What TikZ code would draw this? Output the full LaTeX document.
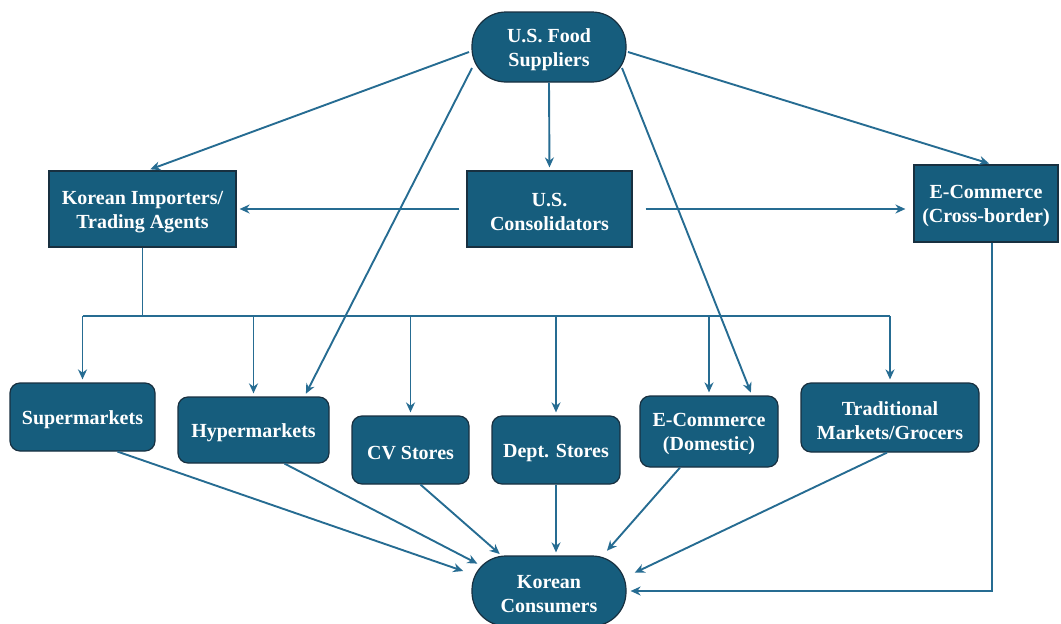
\documentclass[tikz,border=0pt]{standalone}
\usepackage{fontspec}
\setmainfont{Liberation Serif}
\usetikzlibrary{calc,arrows.meta}
\definecolor{boxfill}{RGB}{22,93,125}
\definecolor{boxline}{RGB}{24,48,64}
\definecolor{arrowc}{RGB}{38,108,146}
\tikzset{
  base/.style={draw=boxline, line width=1.2pt, fill=boxfill, inner sep=0pt},
  sqbox/.style={base},
  rbox/.style={base, rounded corners=10pt},
  pill/.style={base, rounded corners=34pt},
  lbl/.style={text=white, align=center, font=\bfseries\fontsize{20}{24}\selectfont, inner sep=0pt},
  conn/.style={draw=arrowc, line width=1.9pt},
  arr/.style={conn, -{Stealth[length=10pt,width=9pt]}, shorten >=3pt}
}
\begin{document}
\begin{tikzpicture}[x=1pt,y=-1pt]
\useasboundingbox (0,0) rectangle (1061,624);
% shapes
\node[pill, minimum width=154pt, minimum height=70pt] (sup) at (549,47) {};
\node[sqbox, minimum width=187pt, minimum height=76pt] (imp) at (142.5,209) {};
\node[sqbox, minimum width=165pt, minimum height=76pt] (con) at (549.5,209) {};
\node[sqbox, minimum width=144pt, minimum height=77pt] (ecx) at (986,203.5) {};
\node[rbox, minimum width=145pt, minimum height=68pt] (sm) at (82.5,417) {};
\node[rbox, minimum width=151pt, minimum height=66pt] (hyp) at (253.5,430) {};
\node[rbox, minimum width=117pt, minimum height=68pt] (cv) at (410.5,450) {};
\node[rbox, minimum width=128pt, minimum height=68pt] (dept) at (556,450) {};
\node[rbox, minimum width=138pt, minimum height=71pt] (ecd) at (709,431.5) {};
\node[rbox, minimum width=178pt, minimum height=69pt] (tr) at (890,417.5) {};
\node[pill, minimum width=154pt, minimum height=70pt] (kc) at (549,591) {};
% labels
\node[lbl] (supt) at ($(sup.center)+(0,3)$) {U.S. Food\\Suppliers};
\node[lbl] (impt) at ($(imp.center)+(0,3)$) {Korean Importers/\\Trading Agents};
\node[lbl] (cont) at ($(con.center)+(0,3)$) {U.S.\\Consolidators};
\node[lbl] (ecxt) at ($(ecx.center)+(0,3)$) {E-Commerce\\(Cross-border)};
\node[lbl] (smt) at ($(sm.center)+(0,3)$) {Supermarkets};
\node[lbl] (hypt) at ($(hyp.center)+(0,3)$) {Hypermarkets};
\node[lbl] (cvt) at ($(cv.center)+(0,3)$) {CV Stores};
\node[lbl] (deptt) at ($(dept.center)+(0,3)$) {Dept. Stores};
\node[lbl] (ecdt) at ($(ecd.center)+(0,3)$) {E-Commerce\\(Domestic)};
\node[lbl] (trt) at ($(tr.center)+(0,3)$) {Traditional\\Markets/Grocers};
\node[lbl] (kct) at ($(kc.center)+(0,3)$) {Korean\\Consumers};
\coordinate (bus) at (0,316);
\coordinate (ecxb) at ($(ecx.south)+(6,0)$);
% from suppliers
\draw[arr] ($(sup.center)+(-80,5)$) -- ($(imp.north)+(5,0)$);
\draw[arr] ($(sup.center)+(-77,21)$) -- ($(hyp.north)+(51,0)$);
\draw[arr] (sup.south) -- (con.north);
\draw[arr] ($(sup.center)+(73,21)$) -- ($(ecd.north)+(43,0)$);
\draw[arr] ($(sup.center)+(79,5)$) -- ($(ecx.north)+(6,0)$);
% consolidators
\draw[arr, shorten <=7pt] (con.west) -- (imp.east);
\draw[arr, shorten <=13pt, shorten >=8pt] (con.east) -- (ecx.west |- con.east);
% bus
\draw[conn] (imp.south) -- (imp.south |- bus);
\draw[conn] (sm.north |- bus) -- (tr.north |- bus);
\foreach \n in {sm,hyp,cv,dept,ecd,tr}{
  \draw[arr] (\n.north |- bus) -- (\n.north);
}
% cross-border to consumers
\draw[arr, shorten >=4pt] (ecxb) -- (ecxb |- kc.east) -- (kc.east);
% retailers to consumers
\draw[arr] ($(sm.south)+(35,0)$) -- ($(kc.center)+(-83,-19)$);
\draw[arr] ($(hyp.south)+(31,0)$) -- ($(kc.center)+(-69,-26)$);
\draw[arr] ($(cv.south)+(10,0)$) -- ($(kc.center)+(-47,-35)$);
\draw[arr] (dept.south) -- (dept.south |- kc.north);
\draw[arr] ($(ecd.south)+(-29,0)$) -- ($(kc.center)+(56,-38)$);
\draw[arr] ($(tr.south)+(-3,0)$) -- ($(kc.center)+(83,-17)$);
\end{tikzpicture}
\end{document}
